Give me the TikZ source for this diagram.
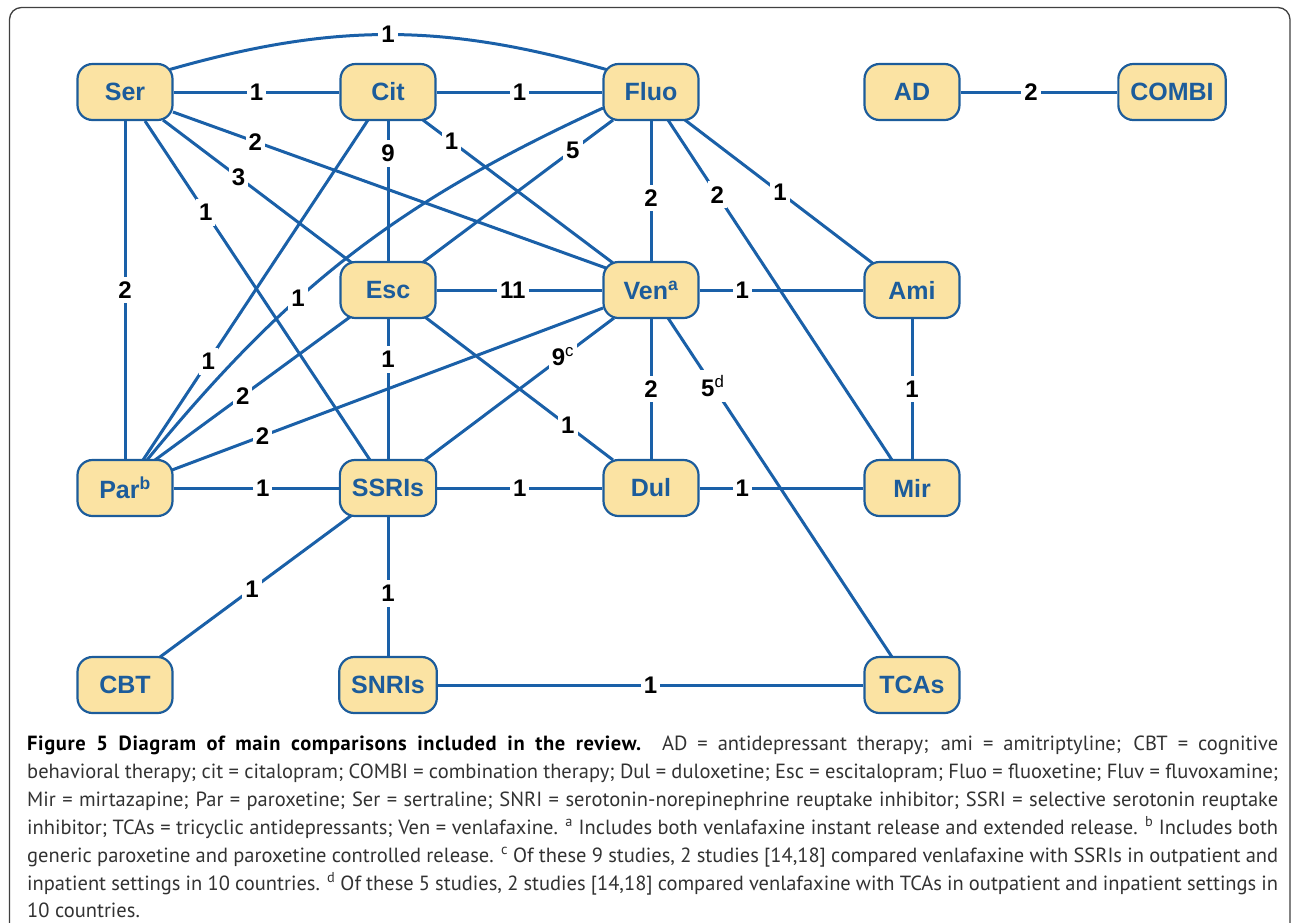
\documentclass[tikz,border=0pt]{standalone}
\usepackage{fontspec}
\setmainfont{Liberation Sans}
\newfontfamily\capfont{PT Sans}
\usetikzlibrary{backgrounds,calc}
\definecolor{boxfill}{RGB}{251,227,163}
\definecolor{boxblue}{RGB}{28,92,155}
\definecolor{edgeblue}{RGB}{26,96,168}
\definecolor{captext}{RGB}{50,50,50}
\newcommand{\capline}[1]{\makebox[1251pt][s]{#1}}
\begin{document}
\begin{tikzpicture}[x=1pt,y=-1pt,
  drug/.style={draw=boxblue, line width=2.2pt, fill=boxfill, rounded corners=15pt,
    minimum width=95pt, minimum height=56pt, inner xsep=12pt, text=boxblue,
    font=\fontsize{25}{25}\selectfont\bfseries},
  edge/.style={draw=edgeblue, line width=3pt},
  lab/.style={fill=white, inner xsep=3pt, inner ysep=5pt,
    font=\fontsize{24}{24}\selectfont\bfseries, text=black},
  captxt/.style={anchor=base west, inner sep=0pt, text=captext,
    font=\capfont\fontsize{20.5}{20.5}\selectfont}
]
\useasboundingbox (0,0) rectangle (1292,922);
\draw[line width=1.3pt, draw=black!75, rounded corners=12pt] (9.5,7.5) rectangle (1290,935);

\node[drug] (ser) at (125,92) {Ser};
\node[drug] (cit) at (388,92) {Cit};
\node[drug] (fluo) at (651,92) {Fluo};
\node[drug] (ad) at (912,92) {AD};
\node[drug] (combi) at (1172,92) {COMBI};
\node[drug] (esc) at (388,290) {Esc};
\node[drug] (ven) at (651,290) {Ven\textsuperscript{a}};
\node[drug] (ami) at (912,290) {Ami};
\node[drug] (par) at (125,488) {Par\textsuperscript{b}};
\node[drug] (ssris) at (388,488) {SSRIs};
\node[drug] (dul) at (651,488) {Dul};
\node[drug] (mir) at (912,488) {Mir};
\node[drug] (cbt) at (125,685) {CBT};
\node[drug] (snris) at (388,685) {SNRIs};
\node[drug] (tcas) at (912,685) {TCAs};

\begin{scope}[on background layer]
\draw[edge] (ser) -- node[lab]{1} (cit);
\draw[edge] ($(ser)+(43,-22)$) to[bend left=16] node[lab]{1} ($(fluo)+(-43,-22)$);
\draw[edge] ($(ser)+(48,20)$) -- node[lab,pos=.19]{2} ($(ven)+(-45,-22)$);
\draw[edge] ($(ser)+(38,28)$) -- node[lab,pos=.4]{3} ($(esc)+(-36,-27)$);
\draw[edge] ($(ser)+(20,29)$) -- node[lab,pos=.27]{1} ($(ssris)+(-18,-28)$);
\draw[edge] (ser) -- node[lab]{2} (par);
\draw[edge] (cit) -- node[lab]{1} (fluo);
\draw[edge] (cit) -- node[lab,pos=.23]{9} (esc);
\draw[edge] ($(cit)+(35,28)$) -- node[lab,pos=.15]{1} ($(ven)+(-38,-27)$);
\draw[edge] ($(cit)+(-20,28)$) -- node[lab,pos=.71]{1} ($(par)+(18,-28)$);
\draw[edge] ($(fluo)+(-38,28)$) -- node[lab,pos=.21]{5} ($(esc)+(34,-27)$);
\draw[edge] (fluo) -- node[lab,pos=.55]{2} (ven);
\draw[edge] ($(fluo)+(17,28)$) -- node[lab,pos=.22]{2} ($(mir)+(-20,-28)$);
\draw[edge] ($(fluo)+(34,28)$) -- node[lab,pos=.5]{1} ($(ami)+(-37,-25)$);
\draw[edge] ($(par)+(22,-28)$) to[bend left=13] node[lab,pos=.37]{1} ($(fluo)+(-48,16)$);
\draw[edge] (esc) -- node[lab,pos=.46]{11} (ven);
\draw[edge] (esc) -- node[lab,pos=.29]{1} (ssris);
\draw[edge] ($(esc)+(37,27)$) -- node[lab,pos=.76]{1} ($(dul)+(-38,-28)$);
\draw[edge] ($(esc)+(-38,27)$) -- node[lab,pos=.55]{2} ($(par)+(30,-28)$);
\draw[edge] (ven) -- node[lab,pos=.26]{1} (ami);
\draw[edge] (ven) -- node[lab]{2} (dul);
\draw[edge] ($(ven)+(17,28)$) -- node[lab,pos=.2]{5\textsuperscript{\mdseries d}} ($(tcas)+(-20,-28)$);
\draw[edge] ($(ven)+(-37,28)$) -- node[lab,pos=.27]{9\textsuperscript{\mdseries c}} ($(ssris)+(37,-28)$);
\draw[edge] ($(ven)+(-48,18)$) -- node[lab,pos=.79]{2} ($(par)+(47,-18)$);
\draw[edge] (ami) -- node[lab]{1} (mir);
\draw[edge] (par) -- node[lab,pos=.54]{1} (ssris);
\draw[edge] (ssris) -- node[lab]{1} (dul);
\draw[edge] (dul) -- node[lab,pos=.26]{1} (mir);
\draw[edge] ($(ssris)+(-36,27)$) -- node[lab,pos=.52]{1} ($(cbt)+(35,-28)$);
\draw[edge] (ssris) -- node[lab,pos=.55]{1} (snris);
\draw[edge] (snris) -- node[lab]{1} (tcas);
\draw[edge] (ad) -- node[lab,pos=.45]{2} (combi);
\end{scope}

\node[captxt] (c1) at (27,750) {\capline{{\bfseries\addfontfeatures{LetterSpace=3}\color{black}Figure 5 Diagram of main comparisons included in the review.} AD = antidepressant therapy; ami = amitriptyline; CBT = cognitive}};
\node[captxt] (c2) at (27,778) {\capline{behavioral therapy; cit = citalopram; COMBI = combination therapy; Dul = duloxetine; Esc = escitalopram; Fluo = fluoxetine; Fluv = fluvoxamine;}};
\node[captxt] (c3) at (27,806) {\capline{Mir = mirtazapine; Par = paroxetine; Ser = sertraline; SNRI = serotonin-norepinephrine reuptake inhibitor; SSRI = selective serotonin reuptake}};
\node[captxt] (c4) at (27,834) {\capline{inhibitor; TCAs = tricyclic antidepressants; Ven = venlafaxine. \textsuperscript{a} Includes both venlafaxine instant release and extended release. \textsuperscript{b} Includes both}};
\node[captxt] (c5) at (27,862) {\capline{generic paroxetine and paroxetine controlled release. \textsuperscript{c} Of these 9 studies, 2 studies [14,18] compared venlafaxine with SSRIs in outpatient and}};
\node[captxt] (c6) at (27,890) {\capline{inpatient settings in 10 countries. \textsuperscript{d} Of these 5 studies, 2 studies [14,18] compared venlafaxine with TCAs in outpatient and inpatient settings in}};
\node[captxt] (c7) at (27,917.5) {10 countries.};
\end{tikzpicture}
\end{document}
